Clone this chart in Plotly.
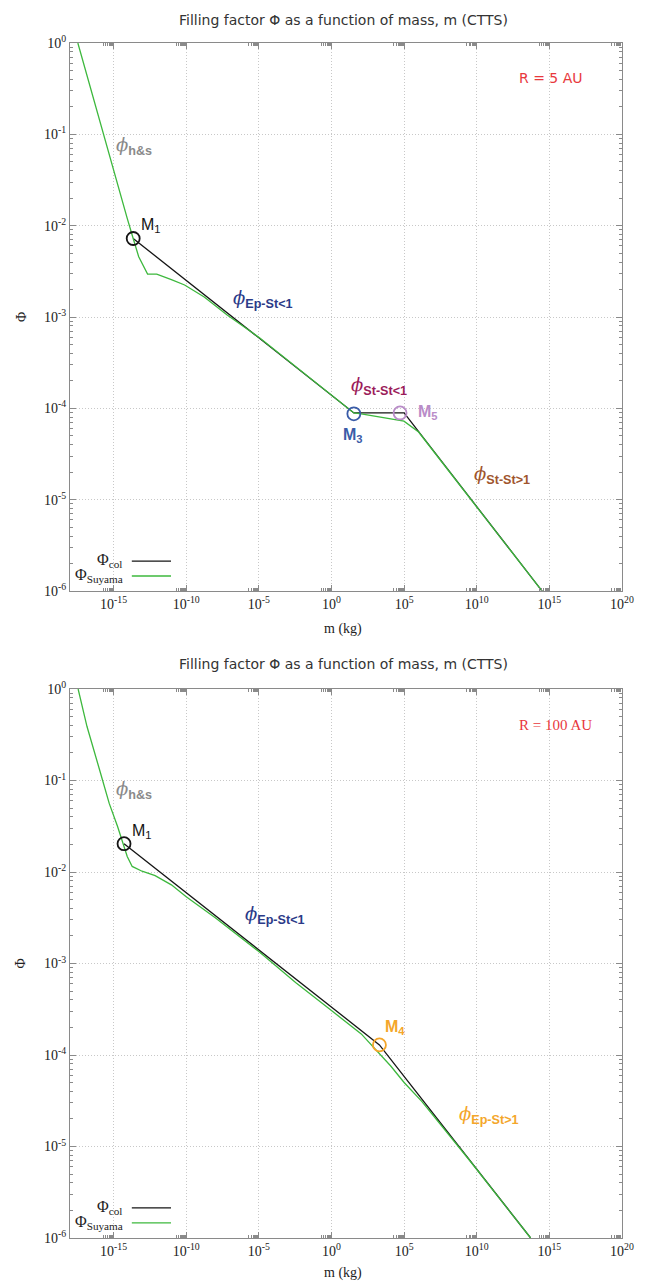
import plotly.graph_objects as go

# ---------------- data ----------------
# Top panel, R = 5 AU
top_col_m = [2.24e-14, 34.7, 1.0e5, 3.16e14]
top_col_phi = [7.24e-3, 8.91e-5, 8.91e-5, 1.0e-6]

top_suy_m = [3.47e-18, 9.12e-17, 1.10e-15, 8.71e-15, 2.24e-14, 5.37e-14, 2.19e-13,
             9.33e-13, 9.55e-12, 7.76e-11, 1.74e-9, 6.61e-8, 1.17e-5, 4.68e-3, 1.0,
             34.7, 112.0, 4.37e3, 9.77e4, 1.0e6, 1.0e7, 1.0e8, 3.16e14]
top_suy_phi = [1.0, 0.155, 0.0398, 0.0120, 7.24e-3, 4.57e-3, 2.95e-3,
               2.95e-3, 2.57e-3, 2.24e-3, 1.66e-3, 1.05e-3, 5.89e-4, 2.75e-4, 1.38e-4,
               8.91e-5, 8.71e-5, 7.94e-5, 7.24e-5, 5.50e-5, 3.45e-5, 2.14e-5, 1.0e-6]

top_pts_name = ["M1", "M3", "M5"]
top_pts_m = [2.24e-14, 34.7, 5.25e4]
top_pts_phi = [7.24e-3, 8.71e-5, 8.91e-5]

# Bottom panel, R = 100 AU
bot_col_m = [5.25e-15, 2.0e3, 5.13e13]
bot_col_phi = [0.0204, 1.29e-4, 1.0e-6]

bot_suy_m = [3.63e-18, 1.48e-17, 1.07e-16, 5.01e-16, 1.86e-15, 5.25e-15, 8.71e-15,
             1.91e-14, 9.12e-14, 7.24e-13, 9.55e-12, 1.0e-10, 1.0e-8, 1.0e-5, 3.55e-3,
             0.631, 112.0, 1.2e4, 1.0e5, 1.7e6, 3.16e9, 5.13e13]
bot_suy_phi = [1.0, 0.389, 0.132, 0.0562, 0.0316, 0.0191, 0.0148,
               0.0115, 0.0102, 9.12e-3, 7.24e-3, 5.37e-3, 3.16e-3, 1.35e-3, 6.17e-4,
               3.24e-4, 1.70e-4, 7.59e-5, 5.01e-5, 3.09e-5, 7.08e-6, 1.0e-6]

bot_pts_name = ["M1", "M4"]
bot_pts_m = [5.25e-15, 2.0e3]
bot_pts_phi = [0.0204, 1.29e-4]

x_tick_vals = [1e-15, 1e-10, 1e-5, 1e0, 1e5, 1e10, 1e15, 1e20]
x_tick_text = ["10<sup>-15</sup>", "10<sup>-10</sup>", "10<sup>-5</sup>", "10<sup>0</sup>",
               "10<sup>5</sup>", "10<sup>10</sup>", "10<sup>15</sup>", "10<sup>20</sup>"]
y_tick_vals = [1e0, 1e-1, 1e-2, 1e-3, 1e-4, 1e-5, 1e-6]
y_tick_text = ["10<sup>0</sup>", "10<sup>-1</sup>", "10<sup>-2</sup>", "10<sup>-3</sup>",
               "10<sup>-4</sup>", "10<sup>-5</sup>", "10<sup>-6</sup>"]

title_text = "Filling factor Φ as a function of mass, m (CTTS)"
# ----------------------------------------------------------------

BLACK = "#151515"
GREEN = "#3db83d"
C_M = {"M1": "#151515", "M3": "#3a5ca8", "M5": "#b98cc8", "M4": "#f4a62a"}

x_minor = [k * 10.0 ** (e - 1) for e in range(-15, 21, 5) for k in range(2, 10)]
y_minor = [k * 10.0 ** e for e in range(-6, 0) for k in range(2, 10)]

fig = go.Figure()


def add_panel(xa, ya, col_m, col_phi, suy_m, suy_phi, pm, pphi, pnames):
    fig.add_trace(go.Scatter(x=col_m, y=col_phi, mode="lines", xaxis=xa, yaxis=ya,
                             line=dict(color=BLACK, width=1.3), name="Φcol"))
    fig.add_trace(go.Scatter(x=suy_m, y=suy_phi, mode="lines", xaxis=xa, yaxis=ya,
                             line=dict(color=GREEN, width=1.3), name="ΦSuyama"))
    fig.add_trace(go.Scatter(x=pm, y=pphi, mode="markers", xaxis=xa, yaxis=ya,
                             marker=dict(symbol="circle-open", size=13,
                                         color=[C_M[n] for n in pnames],
                                         line=dict(width=1.8,
                                                   color=[C_M[n] for n in pnames]))))


add_panel("x", "y", top_col_m, top_col_phi, top_suy_m, top_suy_phi,
          top_pts_m, top_pts_phi, top_pts_name)
add_panel("x2", "y2", bot_col_m, bot_col_phi, bot_suy_m, bot_suy_phi,
          bot_pts_m, bot_pts_phi, bot_pts_name)

tick_font = dict(family="Liberation Serif", size=14, color="#222")
AX = "#8a8a8a"
GRID = dict(showgrid=True, gridcolor="#c8c8c8", griddash="1px,2px", gridwidth=1)
xcommon = dict(type="log", range=[-18, 20], tickmode="array", tickvals=x_tick_vals,
               ticktext=x_tick_text, ticks="inside", ticklen=6, tickcolor=AX,
               showline=True, linecolor=AX, linewidth=1, mirror="ticks",
               zeroline=False, tickfont=tick_font, ticklabeloverflow="allow", **GRID,
               minor=dict(tickmode="array", tickvals=x_minor, ticks="inside",
                          ticklen=3, tickcolor=AX, showgrid=False))
ycommon = dict(type="log", range=[-6, 0], tickmode="array", tickvals=y_tick_vals,
               ticktext=y_tick_text, ticks="inside", ticklen=6, tickcolor=AX,
               showline=True, linecolor=AX, linewidth=1, mirror="ticks",
               zeroline=False, tickfont=tick_font, **GRID,
               minor=dict(tickmode="array", tickvals=y_minor, ticks="inside",
                          ticklen=3, tickcolor=AX, showgrid=False))

# the page body adds an 8px margin, so the figure is 638x1278 to fit the window
fig.update_layout(
    width=638, height=1278,
    margin=dict(l=62, r=14, t=35, b=48),
    paper_bgcolor="white", plot_bgcolor="white",
    showlegend=False,
    xaxis=dict(domain=[0, 1], anchor="y", **xcommon),
    yaxis=dict(domain=[0.5414, 1.0], anchor="x", **ycommon),
    xaxis2=dict(domain=[0, 1], anchor="y2", **xcommon),
    yaxis2=dict(domain=[0.0, 0.4594], anchor="x2", **ycommon),
)

ann = []
TF = dict(family="DejaVu Sans", size=14, color="#333")
for yp in (1.019, 0.4805):
    ann.append(dict(text=title_text, xref="paper", yref="paper", x=0.496, y=yp,
                    showarrow=False, font=TF, xanchor="center", yanchor="middle"))
for yp in (0.5095, -0.029):
    ann.append(dict(text="m (kg)", xref="paper", yref="paper", x=0.495, y=yp,
                    showarrow=False, xanchor="center", yanchor="middle",
                    font=dict(family="Liberation Serif", size=14, color="#222")))
for yp in (0.7707, 0.2297):
    ann.append(dict(text="Φ", xref="paper", yref="paper", x=-0.089, y=yp,
                    showarrow=False, textangle=-90, xanchor="center", yanchor="middle",
                    font=dict(family="Liberation Serif", size=14, color="#222")))


def phi_label(sub, color, xa, ya, x, y):
    txt = ("<span style='font-family:DejaVu Serif'><i>ϕ</i></span>"
           "<sub><b>" + sub + "</b></sub>")
    return dict(text=txt, xref=xa, yref=ya, x=x, y=y, showarrow=False,
                xanchor="left", yanchor="middle",
                font=dict(family="Liberation Sans", size=18, color=color))


def m_label(sub, color, xa, ya, x, y, bold, anchor="left"):
    t = "M<sub>" + sub + "</sub>"
    if bold:
        t = "<b>" + t + "</b>"
    return dict(text=t, xref=xa, yref=ya, x=x, y=y, showarrow=False,
                xanchor=anchor, yanchor="middle",
                font=dict(family="Liberation Sans", size=16, color=color))


# top panel labels (x in log10 units of the axis)
ann.append(phi_label("h&amp;s", "#8a8a8a", "x", "y", -14.95, -1.13))
ann.append(m_label("1", "#151515", "x", "y", -13.25, -2.0, False))
ann.append(phi_label("Ep-St&lt;1", "#2b3a88", "x", "y", -6.95, -2.8))
ann.append(phi_label("St-St&lt;1", "#9b1c5a", "x", "y", 1.2, -3.76))
ann.append(m_label("3", "#3a5ca8", "x", "y", 1.47, -4.3, True, "center"))
ann.append(m_label("5", "#b98cc8", "x", "y", 5.85, -4.05, True))
ann.append(phi_label("St-St&gt;1", "#a0552d", "x", "y", 9.65, -4.73))
ann.append(dict(text="R = 5 AU", xref="x domain", yref="y domain", x=0.872, y=0.936,
                showarrow=False, xanchor="center", yanchor="middle",
                font=dict(family="DejaVu Sans", size=14, color="#e8383d")))

# bottom panel labels
ann.append(phi_label("h&amp;s", "#8a8a8a", "x2", "y2", -15.0, -1.1))
ann.append(m_label("1", "#151515", "x2", "y2", -13.85, -1.56, False))
ann.append(phi_label("Ep-St&lt;1", "#2b3a88", "x2", "y2", -6.1, -2.47))
ann.append(m_label("4", "#f4a62a", "x2", "y2", 3.55, -3.7, True))
ann.append(phi_label("Ep-St&gt;1", "#f4a62a", "x2", "y2", 8.65, -4.66))
ann.append(dict(text="R = 100 AU", xref="x2 domain", yref="y2 domain", x=0.88, y=0.934,
                showarrow=False, xanchor="center", yanchor="middle",
                font=dict(family="Liberation Serif", size=15, color="#e8383d")))

# legends drawn inside each panel
shapes = []
LF = dict(family="Liberation Serif", size=16, color="#222")
for xa, ya in (("x", "y"), ("x2", "y2")):
    ann.append(dict(text="Φ<sub>col</sub>", xref=xa + " domain", yref=ya + " domain",
                    x=0.098, y=0.056, showarrow=False, xanchor="right",
                    yanchor="middle", font=LF))
    ann.append(dict(text="Φ<sub>Suyama</sub>", xref=xa + " domain", yref=ya + " domain",
                    x=0.1, y=0.028, showarrow=False, xanchor="right",
                    yanchor="middle", font=LF))
    shapes.append(dict(type="line", xref=xa + " domain", yref=ya + " domain",
                       x0=0.112, x1=0.183, y0=0.0547, y1=0.0547,
                       line=dict(color=BLACK, width=1.3)))
    shapes.append(dict(type="line", xref=xa + " domain", yref=ya + " domain",
                       x0=0.112, x1=0.183, y0=0.0274, y1=0.0274,
                       line=dict(color=GREEN, width=1.3)))

fig.update_layout(annotations=ann, shapes=shapes)
fig.write_html("out.html")
